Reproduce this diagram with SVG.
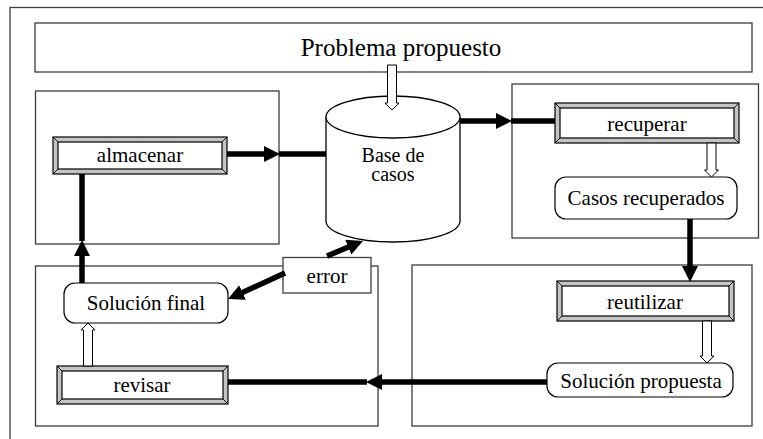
<svg xmlns="http://www.w3.org/2000/svg" width="763" height="439" viewBox="0 0 763 439">
  <style>
    .frame { fill: none; stroke: #3c3c3c; stroke-width: 1.3; }
    .plain { fill: #ffffff; stroke: #3c3c3c; stroke-width: 1.3; }
    .bevel-out { fill: #c4c4c4; stroke: #000; stroke-width: 1.2; }
    .bevel-in { fill: #ffffff; stroke: #000; stroke-width: 1.2; }
    .bevel-edge { stroke: #000; stroke-width: 1; }
    .round { fill: #ffffff; stroke: #000; stroke-width: 1.2; }
    .drum { fill: #ffffff; stroke: #000; stroke-width: 1.3; }
    text { font-family: 'Liberation Serif', 'DejaVu Serif', 'Times New Roman', serif; font-size: 21px; fill: #000; text-anchor: middle; }
    .title { font-size: 25px; }
    .drum-text { font-size: 20px; }
    .thick { stroke: #000; stroke-width: 5.5; fill: none; }
    .hollow { fill: #ffffff; stroke: #000; stroke-width: 1; }
  </style>
  <defs>
    <marker id="head" markerUnits="userSpaceOnUse" markerWidth="17" markerHeight="17" refX="6" refY="8" orient="auto">
      <path d="M0,0 L16,8 L0,16 Z" fill="#000"/>
    </marker>
  </defs>

  <!-- page frame and phase areas -->
  <g id="frames">
    <rect class="frame" x="10" y="7.5" width="770" height="450"/>
    <rect class="frame" x="35.5" y="91" width="243.5" height="153"/>
    <rect class="frame" x="512" y="84" width="246.5" height="154"/>
    <rect class="frame" x="35.5" y="266" width="342.5" height="160"/>
    <rect class="frame" x="412" y="265" width="340" height="161"/>
  </g>

  <g id="problema">
    <rect class="plain" x="35" y="23" width="717" height="49"/>
    <text class="title" x="401" y="56">Problema propuesto</text>
  </g>

  <g id="base-casos">
    <path class="drum" d="M326,117 L326,221 A67,21 0 0 0 460,221 L460,117 A67,21 0 0 0 326,117 Z"/>
    <path class="drum" fill="none" d="M326,117 A67,21 0 0 0 460,117"/>
    <text class="drum-text" x="393" y="162">Base de</text>
    <text class="drum-text" x="393" y="181">casos</text>
  </g>

  <g id="almacenar">
    <rect class="bevel-out" x="53" y="137" width="174" height="37"/>
    <rect class="bevel-in" x="58" y="142" width="164" height="27"/>
    <path class="bevel-edge" d="M53,137 L58,142 M227,137 L222,142 M53,174 L58,169 M227,174 L222,169"/>
    <text x="140" y="162">almacenar</text>
  </g>

  <g id="recuperar">
    <rect class="bevel-out" x="555" y="103" width="184" height="40"/>
    <rect class="bevel-in" x="560" y="108" width="174" height="30"/>
    <path class="bevel-edge" d="M555,103 L560,108 M739,103 L734,108 M555,143 L560,138 M739,143 L734,138"/>
    <text x="647" y="131">recuperar</text>
  </g>

  <g id="casos-recuperados">
    <rect class="round" x="555" y="177" width="182" height="42" rx="11"/>
    <text x="646" y="205">Casos recuperados</text>
  </g>

  <g id="reutilizar">
    <rect class="bevel-out" x="557" y="281" width="177" height="40"/>
    <rect class="bevel-in" x="562" y="286" width="167" height="30"/>
    <path class="bevel-edge" d="M557,281 L562,286 M734,281 L729,286 M557,321 L562,316 M734,321 L729,316"/>
    <text x="645" y="309">reutilizar</text>
  </g>

  <g id="solucion-propuesta">
    <rect class="round" x="547" y="363" width="186" height="34" rx="11"/>
    <text x="641" y="388">Solución propuesta</text>
  </g>

  <g id="revisar">
    <rect class="bevel-out" x="57" y="366" width="171" height="38"/>
    <rect class="bevel-in" x="62" y="371" width="161" height="28"/>
    <path class="bevel-edge" d="M57,366 L62,371 M228,366 L223,371 M57,404 L62,399 M228,404 L223,399"/>
    <text x="142" y="392">revisar</text>
  </g>

  <g id="solucion-final">
    <rect class="round" x="64" y="283" width="164" height="40" rx="11"/>
    <text x="146" y="310">Solución final</text>
  </g>

  <g id="error">
    <rect class="plain" x="283" y="257.5" width="88" height="35.5"/>
    <text x="327" y="283">error</text>
  </g>

  <g id="connectors">
    <!-- thick flow arrows -->
    <line class="thick" x1="227" y1="154" x2="270" y2="154" marker-end="url(#head)"/>
    <line class="thick" x1="279" y1="154" x2="326" y2="154"/>
    <line class="thick" x1="460" y1="121" x2="502" y2="121" marker-end="url(#head)"/>
    <line class="thick" x1="511" y1="121" x2="555" y2="121"/>
    <line class="thick" x1="690" y1="219" x2="690" y2="272" marker-end="url(#head)"/>
    <line class="thick" x1="547" y1="382" x2="376" y2="382" marker-end="url(#head)"/>
    <line class="thick" x1="367" y1="382" x2="228" y2="382"/>
    <line class="thick" x1="82" y1="283" x2="82" y2="250" marker-end="url(#head)"/>
    <line class="thick" x1="82" y1="241" x2="82" y2="174"/>
    <line class="thick" x1="285" y1="273" x2="237.1" y2="294.9" marker-end="url(#head)"/>
    <line class="thick" x1="327" y1="256" x2="353.8" y2="244.8" marker-end="url(#head)"/>
    <!-- hollow arrows -->
    <polygon class="hollow" points="387.5,65 396.5,65 396.5,103 399,103 392,110 385,103 387.5,103"/>
    <polygon class="hollow" points="707,143 716,143 716,170 718.5,170 711.5,177 704.5,170 707,170"/>
    <polygon class="hollow" points="702.5,321 711.5,321 711.5,356 714,356 707,363 700,356 702.5,356"/>
    <polygon class="hollow" points="83.5,366 92.5,366 92.5,330 95,330 88,323 81,330 83.5,330"/>
  </g>
</svg>
